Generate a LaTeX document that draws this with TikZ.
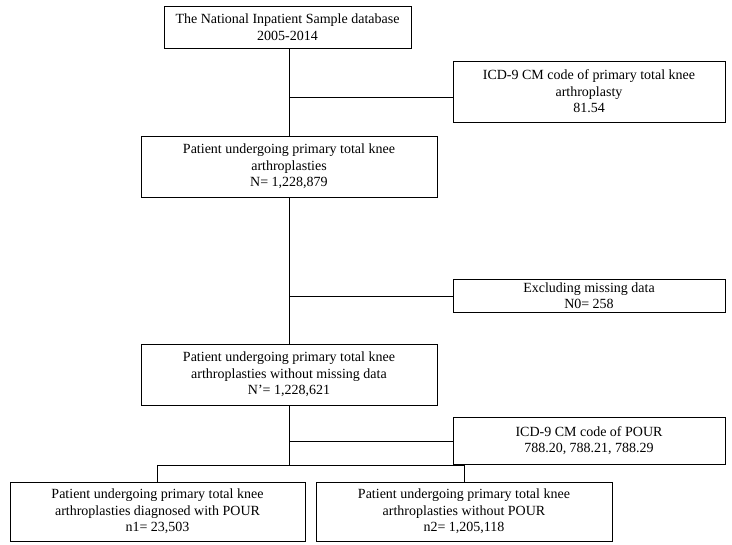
\documentclass[tikz,border=0pt]{standalone}
\usepackage{fontspec}
\setmainfont{Liberation Serif}
\begin{document}
\begin{tikzpicture}[x=1pt,y=-1pt,
  bx/.style={draw,thick,align=center,font=\fontsize{14}{16.5}\selectfont,inner sep=0pt},
  ln/.style={thick}]
\useasboundingbox (0,0) rectangle (732,545);
\node[bx,minimum width=247,minimum height=42] (a) at (287.5,27) {The National Inpatient Sample database\\2005-2014};
\node[bx,minimum width=272,minimum height=61] (r1) at (589,91.5) {ICD-9 CM code of primary total knee\\arthroplasty\\81.54};
\node[bx,minimum width=296,minimum height=61] (b) at (289,166.5) {Patient undergoing primary total knee\\arthroplasties\\N= 1,228,879};
\node[bx,minimum width=272,minimum height=33] (r2) at (589,295.5) {Excluding missing data\\N0= 258};
\node[bx,minimum width=296,minimum height=61] (c) at (289,374.5) {Patient undergoing primary total knee\\arthroplasties without missing data\\N'= 1,228,621};
\node[bx,minimum width=272,minimum height=47] (r3) at (589,440.5) {ICD-9 CM code of POUR\\788.20, 788.21, 788.29};
\node[bx,minimum width=295,minimum height=59] (d) at (157.5,511.5) {Patient undergoing primary total knee\\arthroplasties diagnosed with POUR\\n1= 23,503};
\node[bx,minimum width=296,minimum height=59] (e) at (464,511.5) {Patient undergoing primary total knee\\arthroplasties without POUR\\n2= 1,205,118};
\coordinate (j1) at (289,97);
\coordinate (j2) at (289,296);
\coordinate (j3) at (289,441);
\coordinate (s) at (289,465);
\coordinate (sl) at (157.5,465);
\coordinate (sr) at (464,465);
\draw[ln] (a.south -| j1) -- (b.north -| j1);
\draw[ln] (j1) -- (j1 -| r1.west);
\draw[ln] (b.south) -- (c.north);
\draw[ln] (j2) -- (j2 -| r2.west);
\draw[ln] (c.south) -- (s);
\draw[ln] (j3) -- (j3 -| r3.west);
\draw[ln] (sl) -- (sr);
\draw[ln] (sl) -- (d.north);
\draw[ln] (sr) -- (e.north);
\end{tikzpicture}
\end{document}
